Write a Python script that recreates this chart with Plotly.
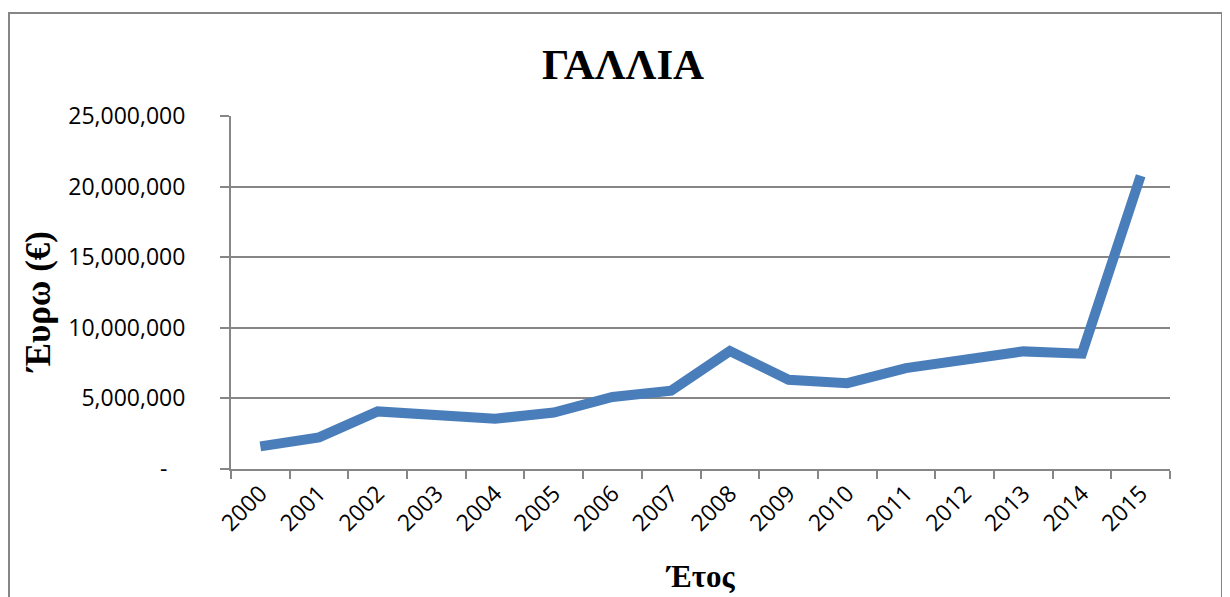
import plotly.graph_objects as go

# data ==================================
years = [str(y) for y in range(2000, 2016)]
euro = [1.60e6, 2.24e6, 4.08e6, 3.90e6, 3.56e6, 4.00e6, 5.10e6, 5.55e6,
        8.35e6, 6.32e6, 6.08e6, 7.15e6, 7.67e6, 8.33e6, 8.17e6, 20.77e6]

y_ticks = [0, 5e6, 10e6, 15e6, 20e6, 25e6]
y_labels = ["-\u00a0\u00a0\u00a0", "5,000,000", "10,000,000", "15,000,000",
            "20,000,000", "25,000,000"]

grey = "#868686"
sans = "Open Sans"
serif = "Liberation Serif"

fig = go.Figure(go.Scatter(
    x=years, y=euro, mode="lines",
    line=dict(color="#4A7EBB", width=10),
    hoverinfo="skip",
))

# the page body has an 8px margin, so the figure starts at (8, 8)
OFF = 8
W, H = 1230 - OFF, 597 - OFF
L, R, T, B = 231 - OFF, 60, 116 - OFF, 128
pw, ph = W - L - R, H - T - B

def px(x):  # screen pixel -> paper x
    return (x - OFF - L) / pw

def py(y):  # screen pixel -> paper y
    return (H - B - (y - OFF)) / ph

fig.update_layout(
    width=W, height=H,
    margin=dict(l=L, r=R, t=T, b=B),
    paper_bgcolor="white", plot_bgcolor="white",
    showlegend=False,
    xaxis=dict(
        type="category", tickson="boundaries",
        showgrid=False, showline=True, linecolor=grey, linewidth=2,
        ticks="outside", ticklen=8, tickcolor=grey, tickwidth=2,
        tickangle=-45, tickfont=dict(family=sans, size=23, color="black"),
        range=[-0.5, 15.5],
    ),
    yaxis=dict(
        range=[0, 25e6], tickvals=y_ticks, ticktext=y_labels,
        showgrid=True, gridcolor=grey, gridwidth=2,
        showline=True, linecolor=grey, linewidth=2,
        ticks="outside", ticklen=9, tickcolor=grey, tickwidth=2,
        ticklabelstandoff=30,
        tickfont=dict(family=sans, size=23, color="black"),
        zeroline=False,
    ),
    annotations=[
        dict(text="<b>ΓΑΛΛΙΑ</b>", xref="paper", yref="paper",
             x=px(623), y=py(64), xanchor="center", yanchor="middle",
             showarrow=False,
             font=dict(family=serif, size=43, color="black")),
        dict(text="<b>Έτος</b>", xref="paper", yref="paper",
             x=px(700), y=py(576), xanchor="center", yanchor="middle",
             showarrow=False,
             font=dict(family=serif, size=31, color="black")),
        dict(text="<b>Έυρω (€)</b>", xref="paper", yref="paper",
             x=px(38), y=py(302), xanchor="center", yanchor="middle",
             showarrow=False, textangle=-90,
             font=dict(family=serif, size=35, color="black")),
    ],
    shapes=[
        dict(type="rect", xref="paper", yref="paper",
             x0=px(9), x1=px(1222), y0=py(610), y1=py(13),
             line=dict(color=grey, width=2), layer="below"),
    ],
)

fig.write_html("out.html")
